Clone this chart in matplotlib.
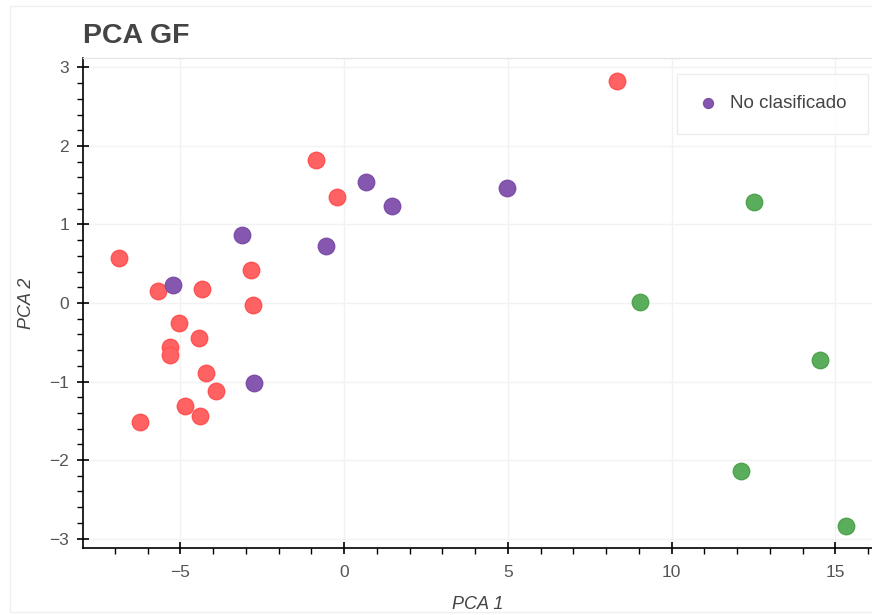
import matplotlib.pyplot as plt
from matplotlib.ticker import MultipleLocator
from matplotlib.patches import Rectangle

plt.rcParams['font.family'] = ['Liberation Sans', 'DejaVu Sans']

# PCA coordinates per group
red_x = [8.34, -0.85, -0.21, -6.87, -2.84, -5.68, -4.34, -2.78, -5.04, -4.43,
         -5.31, -5.31, -4.21, -3.91, -4.85, -4.40, -6.23]
red_y = [2.83, 1.82, 1.35, 0.57, 0.42, 0.15, 0.18, -0.03, -0.25, -0.45,
         -0.56, -0.66, -0.89, -1.12, -1.31, -1.44, -1.52]

purple_x = [0.67, 4.98, 1.47, -3.11, -0.55, -5.22, -2.75]
purple_y = [1.54, 1.46, 1.24, 0.87, 0.73, 0.23, -1.02]

green_x = [12.52, 9.04, 14.53, 12.12, 15.33]
green_y = [1.29, 0.01, -0.73, -2.14, -2.84]

fig = plt.figure(figsize=(8.72, 6.15), dpi=100)
ax = fig.add_axes([0.0952, 0.109, 0.9048, 0.7967])

# light outline round the whole canvas
fig.patches.append(Rectangle((0.012, 0.005), 0.99, 0.985, transform=fig.transFigure,
                             fill=False, edgecolor='#f0f0f0', linewidth=1))

ax.scatter(red_x, red_y, s=140, color='#ff6262', edgecolors='#ff5252',
           linewidths=1, zorder=3)
ax.scatter(purple_x, purple_y, s=140, color='#8557ae', edgecolors='#7c4ea8',
           linewidths=1, zorder=3, label='No clasificado')
ax.scatter(green_x, green_y, s=140, color='#5aad5a', edgecolors='#4ea34e',
           linewidths=1, zorder=3)

ax.set_xlim(-7.97, 16.12)
ax.set_ylim(-3.12, 3.12)

ax.xaxis.set_major_locator(MultipleLocator(5))
ax.xaxis.set_minor_locator(MultipleLocator(1))
ax.yaxis.set_major_locator(MultipleLocator(1))
ax.yaxis.set_minor_locator(MultipleLocator(0.2))

ax.grid(True, which='major', color='#f2f2f2', linewidth=1, zorder=0)
ax.set_axisbelow(True)

ax.spines['right'].set_visible(False)
ax.spines['top'].set_color('#e6e6e6')
ax.spines['top'].set_linewidth(1)
for side in ['left', 'bottom']:
    ax.spines[side].set_color('black')
    ax.spines[side].set_linewidth(1.2)

ax.tick_params(which='major', direction='inout', length=8, width=1.2,
               colors='black', labelcolor='#555555', labelsize=12.5, pad=8)
ax.tick_params(which='minor', direction='out', length=4, width=1, colors='black')
ax.tick_params(axis='y', which='major', pad=6)

ax.set_xlabel('PCA 1', fontsize=13, fontstyle='italic', color='#444444', labelpad=12)
ax.set_ylabel('PCA 2', fontsize=13, fontstyle='italic', color='#444444', labelpad=10)

fig.text(0.0952, 0.941, 'PCA GF', fontsize=20.5, fontweight='bold', color='#444444',
         va='center', ha='left')

leg = ax.legend(loc='upper right', bbox_to_anchor=(0.9955, 0.968), frameon=True,
                fancybox=False, fontsize=13.5, markerscale=0.6, handlelength=1.0,
                handletextpad=0.7, borderpad=1.15, borderaxespad=0)
leg.get_frame().set_edgecolor('#e8e8e8')
leg.get_frame().set_linewidth(1)
for t in leg.get_texts():
    t.set_color('#444444')

fig.savefig('out.png', dpi=100)
